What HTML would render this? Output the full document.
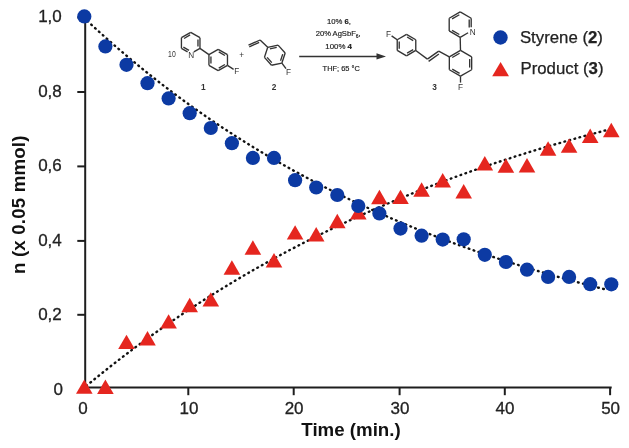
<!DOCTYPE html>
<html><head><meta charset="utf-8"><title>Reaction kinetics</title>
<style>html,body{margin:0;padding:0;background:#fff;width:629px;height:448px;overflow:hidden}svg{display:block}</style>
</head><body>
<svg width="629" height="448" viewBox="0 0 629 448">
<style>
.tk{font-family:"Liberation Sans",sans-serif;font-size:17px;fill:#222;stroke:#222;stroke-width:0.3px}
.ttl{font-family:"Liberation Sans",sans-serif;font-size:18.7px;font-weight:bold;fill:#111}
.lg{font-family:"Liberation Sans",sans-serif;font-size:16.8px;fill:#222;stroke:#222;stroke-width:0.25px}
.ch{font-family:"Liberation Sans",sans-serif;font-size:8.2px;fill:#333}
.cr{font-family:"Liberation Sans",sans-serif;font-size:7.9px;fill:#222;stroke:#222;stroke-width:0.18px}
.chb{font-family:"Liberation Sans",sans-serif;font-size:8.3px;font-weight:bold;fill:#333}
</style>
<rect width="629" height="448" fill="#fff"/>
<line x1="190.70" y1="32.30" x2="199.97" y2="37.65" stroke="#333" stroke-width="1.35"/>
<line x1="199.97" y1="37.65" x2="199.97" y2="48.35" stroke="#333" stroke-width="1.35"/>
<line x1="199.97" y1="48.35" x2="193.82" y2="51.90" stroke="#333" stroke-width="1.35"/>
<line x1="187.58" y1="51.90" x2="181.43" y2="48.35" stroke="#333" stroke-width="1.35"/>
<line x1="181.43" y1="48.35" x2="181.43" y2="37.65" stroke="#333" stroke-width="1.35"/>
<line x1="181.43" y1="37.65" x2="190.70" y2="32.30" stroke="#333" stroke-width="1.35"/>
<line x1="184.01" y1="38.47" x2="190.12" y2="34.94" stroke="#333" stroke-width="1.35"/>
<line x1="197.97" y1="39.47" x2="197.97" y2="46.53" stroke="#333" stroke-width="1.35"/>
<line x1="188.98" y1="50.42" x2="183.37" y2="47.18" stroke="#333" stroke-width="1.35"/>
<line x1="218.20" y1="49.30" x2="227.47" y2="54.65" stroke="#333" stroke-width="1.35"/>
<line x1="227.47" y1="54.65" x2="227.47" y2="65.35" stroke="#333" stroke-width="1.35"/>
<line x1="227.47" y1="65.35" x2="218.20" y2="70.70" stroke="#333" stroke-width="1.35"/>
<line x1="218.20" y1="70.70" x2="208.93" y2="65.35" stroke="#333" stroke-width="1.35"/>
<line x1="208.93" y1="65.35" x2="208.93" y2="54.65" stroke="#333" stroke-width="1.35"/>
<line x1="208.93" y1="54.65" x2="218.20" y2="49.30" stroke="#333" stroke-width="1.35"/>
<line x1="218.78" y1="51.94" x2="224.89" y2="55.47" stroke="#333" stroke-width="1.35"/>
<line x1="224.89" y1="64.53" x2="218.78" y2="68.06" stroke="#333" stroke-width="1.35"/>
<line x1="210.93" y1="63.53" x2="210.93" y2="56.47" stroke="#333" stroke-width="1.35"/>
<line x1="199.97" y1="48.35" x2="208.93" y2="54.65" stroke="#333" stroke-width="1.35"/>
<line x1="227.47" y1="65.35" x2="233.60" y2="69.40" stroke="#333" stroke-width="1.35"/>
<line x1="267.71" y1="47.32" x2="278.08" y2="45.12" stroke="#333" stroke-width="1.35"/>
<line x1="278.08" y1="45.12" x2="285.17" y2="53.00" stroke="#333" stroke-width="1.35"/>
<line x1="285.17" y1="53.00" x2="281.89" y2="63.08" stroke="#333" stroke-width="1.35"/>
<line x1="281.89" y1="63.08" x2="271.52" y2="65.28" stroke="#333" stroke-width="1.35"/>
<line x1="271.52" y1="65.28" x2="264.43" y2="57.40" stroke="#333" stroke-width="1.35"/>
<line x1="264.43" y1="57.40" x2="267.71" y2="47.32" stroke="#333" stroke-width="1.35"/>
<line x1="269.89" y1="48.90" x2="276.73" y2="47.45" stroke="#333" stroke-width="1.35"/>
<line x1="282.71" y1="54.09" x2="280.55" y2="60.75" stroke="#333" stroke-width="1.35"/>
<line x1="271.80" y1="62.60" x2="267.12" y2="57.40" stroke="#333" stroke-width="1.35"/>
<line x1="267.71" y1="47.32" x2="260.10" y2="40.00" stroke="#333" stroke-width="1.35"/>
<line x1="260.10" y1="40.00" x2="248.50" y2="45.10" stroke="#333" stroke-width="1.35"/>
<line x1="259.20" y1="42.40" x2="249.30" y2="46.90" stroke="#333" stroke-width="1.35"/>
<line x1="281.89" y1="63.08" x2="286.00" y2="68.60" stroke="#333" stroke-width="1.35"/>
<line x1="406.50" y1="34.40" x2="415.77" y2="39.75" stroke="#333" stroke-width="1.35"/>
<line x1="415.77" y1="39.75" x2="415.77" y2="50.45" stroke="#333" stroke-width="1.35"/>
<line x1="415.77" y1="50.45" x2="406.50" y2="55.80" stroke="#333" stroke-width="1.35"/>
<line x1="406.50" y1="55.80" x2="397.23" y2="50.45" stroke="#333" stroke-width="1.35"/>
<line x1="397.23" y1="50.45" x2="397.23" y2="39.75" stroke="#333" stroke-width="1.35"/>
<line x1="397.23" y1="39.75" x2="406.50" y2="34.40" stroke="#333" stroke-width="1.35"/>
<line x1="407.08" y1="37.04" x2="413.19" y2="40.57" stroke="#333" stroke-width="1.35"/>
<line x1="413.19" y1="49.63" x2="407.08" y2="53.16" stroke="#333" stroke-width="1.35"/>
<line x1="399.23" y1="48.63" x2="399.23" y2="41.57" stroke="#333" stroke-width="1.35"/>
<line x1="397.23" y1="39.75" x2="391.60" y2="35.90" stroke="#333" stroke-width="1.35"/>
<line x1="415.77" y1="50.45" x2="427.40" y2="59.10" stroke="#333" stroke-width="1.35"/>
<line x1="427.40" y1="59.10" x2="438.70" y2="51.10" stroke="#333" stroke-width="1.35"/>
<line x1="428.60" y1="61.40" x2="438.90" y2="54.00" stroke="#333" stroke-width="1.35"/>
<line x1="460.50" y1="50.40" x2="471.67" y2="56.85" stroke="#333" stroke-width="1.35"/>
<line x1="471.67" y1="56.85" x2="471.67" y2="69.75" stroke="#333" stroke-width="1.35"/>
<line x1="471.67" y1="69.75" x2="460.50" y2="76.20" stroke="#333" stroke-width="1.35"/>
<line x1="460.50" y1="76.20" x2="449.33" y2="69.75" stroke="#333" stroke-width="1.35"/>
<line x1="449.33" y1="69.75" x2="449.33" y2="56.85" stroke="#333" stroke-width="1.35"/>
<line x1="449.33" y1="56.85" x2="460.50" y2="50.40" stroke="#333" stroke-width="1.35"/>
<line x1="452.23" y1="57.49" x2="459.60" y2="53.23" stroke="#333" stroke-width="1.35"/>
<line x1="469.67" y1="59.04" x2="469.67" y2="67.56" stroke="#333" stroke-width="1.35"/>
<line x1="459.60" y1="73.37" x2="452.23" y2="69.11" stroke="#333" stroke-width="1.35"/>
<line x1="438.70" y1="51.10" x2="449.33" y2="56.85" stroke="#333" stroke-width="1.35"/>
<line x1="460.50" y1="76.20" x2="460.50" y2="82.60" stroke="#333" stroke-width="1.35"/>
<line x1="460.20" y1="11.90" x2="471.20" y2="18.25" stroke="#333" stroke-width="1.35"/>
<line x1="471.20" y1="18.25" x2="471.20" y2="27.35" stroke="#333" stroke-width="1.35"/>
<line x1="468.08" y1="32.75" x2="460.20" y2="37.30" stroke="#333" stroke-width="1.35"/>
<line x1="460.20" y1="37.30" x2="449.20" y2="30.95" stroke="#333" stroke-width="1.35"/>
<line x1="449.20" y1="30.95" x2="449.20" y2="18.25" stroke="#333" stroke-width="1.35"/>
<line x1="449.20" y1="18.25" x2="460.20" y2="11.90" stroke="#333" stroke-width="1.35"/>
<line x1="452.07" y1="18.90" x2="459.33" y2="14.71" stroke="#333" stroke-width="1.35"/>
<line x1="459.33" y1="34.49" x2="452.07" y2="30.30" stroke="#333" stroke-width="1.35"/>
<line x1="469.21" y1="19.49" x2="469.21" y2="27.57" stroke="#333" stroke-width="1.35"/>
<line x1="460.20" y1="37.30" x2="460.50" y2="50.40" stroke="#333" stroke-width="1.35"/>
<line x1="299.2" y1="56.4" x2="379" y2="56.4" stroke="#333" stroke-width="1.5"/>
<polygon points="386,56.4 376.5,53.3 376.5,59.5" fill="#333"/>
<text x="171.9" y="56.6" class="ch" text-anchor="middle" textLength="7.6" lengthAdjust="spacingAndGlyphs">10</text>
<text x="191.2" y="57.6" class="ch" text-anchor="middle">N</text>
<text x="236.8" y="74.3" class="ch" text-anchor="middle">F</text>
<text x="288.6" y="74.6" class="ch" text-anchor="middle">F</text>
<text x="388.4" y="37.4" class="ch" text-anchor="middle">F</text>
<text x="460.6" y="89.9" class="ch" text-anchor="middle">F</text>
<text x="472.6" y="34.6" class="ch" text-anchor="middle">N</text>
<text x="241.6" y="58.2" class="ch" text-anchor="middle" font-size="5">+</text>
<text x="203.2" y="90.2" class="chb" text-anchor="middle">1</text>
<text x="274.1" y="90.2" class="chb" text-anchor="middle">2</text>
<text x="434.5" y="90.2" class="chb" text-anchor="middle">3</text>
<text x="327" y="24.0" class="cr" textLength="24" lengthAdjust="spacingAndGlyphs">10% <tspan font-weight="bold">6</tspan>,</text>
<text x="315.7" y="35.9" class="cr" textLength="45" lengthAdjust="spacingAndGlyphs">20% AgSbF<tspan font-size="5.2" dy="1.6">6</tspan><tspan dy="-1.6">,</tspan></text>
<text x="325.3" y="48.7" class="cr" textLength="26.7" lengthAdjust="spacingAndGlyphs">100% <tspan font-weight="bold">4</tspan></text>
<text x="322.6" y="71.3" class="cr" textLength="37.2" lengthAdjust="spacingAndGlyphs">THF; 65 °C</text>
<line x1="85.2" y1="17" x2="85.2" y2="388.6" stroke="#1e1e1e" stroke-width="2"/>
<line x1="84.2" y1="387.6" x2="611.7" y2="387.6" stroke="#1e1e1e" stroke-width="2"/>
<line x1="77.3" y1="314.8" x2="85.2" y2="314.8" stroke="#1e1e1e" stroke-width="2"/>
<line x1="77.3" y1="240.9" x2="85.2" y2="240.9" stroke="#1e1e1e" stroke-width="2"/>
<line x1="77.3" y1="166.4" x2="85.2" y2="166.4" stroke="#1e1e1e" stroke-width="2"/>
<line x1="77.3" y1="92.0" x2="85.2" y2="92.0" stroke="#1e1e1e" stroke-width="2"/>
<line x1="77.3" y1="17.5" x2="85.2" y2="17.5" stroke="#1e1e1e" stroke-width="2"/>
<line x1="188.3" y1="387.6" x2="188.3" y2="395.2" stroke="#1e1e1e" stroke-width="2"/>
<line x1="293.7" y1="387.6" x2="293.7" y2="395.2" stroke="#1e1e1e" stroke-width="2"/>
<line x1="399.6" y1="387.6" x2="399.6" y2="395.2" stroke="#1e1e1e" stroke-width="2"/>
<line x1="504.8" y1="387.6" x2="504.8" y2="395.2" stroke="#1e1e1e" stroke-width="2"/>
<line x1="610.1" y1="387.6" x2="610.1" y2="395.2" stroke="#1e1e1e" stroke-width="2"/>
<text x="61.8" y="22.4" text-anchor="end" class="tk">1,0</text>
<text x="61.8" y="96.9" text-anchor="end" class="tk">0,8</text>
<text x="61.8" y="171.3" text-anchor="end" class="tk">0,6</text>
<text x="61.8" y="245.8" text-anchor="end" class="tk">0,4</text>
<text x="61.8" y="319.7" text-anchor="end" class="tk">0,2</text>
<text x="62.9" y="395.1" text-anchor="end" class="tk">0</text>
<text x="83.1" y="414" text-anchor="middle" class="tk">0</text>
<text x="189.0" y="414" text-anchor="middle" class="tk">10</text>
<text x="294.1" y="414" text-anchor="middle" class="tk">20</text>
<text x="400.0" y="414" text-anchor="middle" class="tk">30</text>
<text x="505.0" y="414" text-anchor="middle" class="tk">40</text>
<text x="610.6" y="414" text-anchor="middle" class="tk">50</text>
<text x="351" y="435.8" text-anchor="middle" class="ttl">Time (min.)</text>
<text transform="translate(24.8,204.8) rotate(-90)" text-anchor="middle" class="ttl" textLength="138.4" lengthAdjust="spacing">n (x 0.05 mmol)</text>
<path d="M87.46,21.06 L90.07,23.48 L92.67,25.88 L95.27,28.27 L97.88,30.64 L100.48,32.99 L103.08,35.33 L105.69,37.66 L108.29,39.96 L110.89,42.26 L113.50,44.54 L116.10,46.80 L118.70,49.05 L121.31,51.28 L123.91,53.50 L126.51,55.71 L129.12,57.90 L131.72,60.07 L134.32,62.23 L136.93,64.38 L139.53,66.51 L142.13,68.63 L144.74,70.73 L147.34,72.82 L149.94,74.90 L152.55,76.96 L155.15,79.01 L157.75,81.05 L160.36,83.07 L162.96,85.08 L165.56,87.08 L168.17,89.06 L170.77,91.03 L173.37,92.99 L175.98,94.93 L178.58,96.86 L181.18,98.78 L183.79,100.69 L186.39,102.58 L188.99,104.46 L191.60,106.33 L194.20,108.18 L196.80,110.03 L199.41,111.86 L202.01,113.68 L204.61,115.48 L207.22,117.28 L209.82,119.06 L212.42,120.83 L215.03,122.59 L217.63,124.34 L220.23,126.08 L222.84,127.81 L225.44,129.52 L228.04,131.22 L230.65,132.91 L233.25,134.59 L235.85,136.26 L238.46,137.92 L241.06,139.57 L243.66,141.21 L246.27,142.83 L248.87,144.45 L251.47,146.05 L254.08,147.64 L256.68,149.23 L259.29,150.80 L261.89,152.36 L264.49,153.91 L267.10,155.46 L269.70,156.99 L272.30,158.51 L274.91,160.02 L277.51,161.52 L280.11,163.01 L282.72,164.50 L285.32,165.97 L287.92,167.43 L290.53,168.88 L293.13,170.33 L295.73,171.76 L298.34,173.18 L300.94,174.60 L303.54,176.00 L306.15,177.40 L308.75,178.79 L311.35,180.16 L313.96,181.53 L316.56,182.89 L319.16,184.24 L321.77,185.58 L324.37,186.92 L326.97,188.24 L329.58,189.56 L332.18,190.86 L334.78,192.16 L337.39,193.45 L339.99,194.73 L342.59,196.00 L345.20,197.27 L347.80,198.52 L350.40,199.77 L353.01,201.01 L355.61,202.24 L358.21,203.46 L360.82,204.68 L363.42,205.89 L366.02,207.09 L368.63,208.28 L371.23,209.46 L373.83,210.63 L376.44,211.80 L379.04,212.96 L381.64,214.11 L384.25,215.26 L386.85,216.40 L389.45,217.53 L392.06,218.65 L394.66,219.76 L397.26,220.87 L399.87,221.97 L402.47,223.06 L405.07,224.15 L407.68,225.23 L410.28,226.30 L412.88,227.36 L415.49,228.42 L418.09,229.47 L420.69,230.51 L423.30,231.55 L425.90,232.58 L428.50,233.60 L431.11,234.62 L433.71,235.63 L436.31,236.63 L438.92,237.63 L441.52,238.62 L444.13,239.60 L446.73,240.57 L449.33,241.54 L451.94,242.51 L454.54,243.47 L457.14,244.42 L459.75,245.36 L462.35,246.30 L464.95,247.23 L467.56,248.16 L470.16,249.08 L472.76,249.99 L475.37,250.90 L477.97,251.80 L480.57,252.70 L483.18,253.59 L485.78,254.47 L488.38,255.35 L490.99,256.22 L493.59,257.09 L496.19,257.95 L498.80,258.81 L501.40,259.66 L504.00,260.50 L506.61,261.34 L509.21,262.17 L511.81,263.00 L514.42,263.82 L517.02,264.64 L519.62,265.45 L522.23,266.26 L524.83,267.06 L527.43,267.85 L530.04,268.64 L532.64,269.43 L535.24,270.21 L537.85,270.98 L540.45,271.75 L543.05,272.51 L545.66,273.27 L548.26,274.03 L550.86,274.78 L553.47,275.52 L556.07,276.26 L558.67,277.00 L561.28,277.72 L563.88,278.45 L566.48,279.17 L569.09,279.89 L571.69,280.60 L574.29,281.30 L576.90,282.00 L579.50,282.70 L582.10,283.39 L584.71,284.08 L587.31,284.76 L589.91,285.44 L592.52,286.12 L595.12,286.78 L597.72,287.45 L600.33,288.11 L602.93,288.77 L605.53,289.42 L608.14,290.07" fill="none" stroke="#111" stroke-width="2.4" stroke-dasharray="0.7 4.5" stroke-linecap="round"/>
<path d="M86.41,385.84 L89.02,383.68 L91.63,381.54 L94.23,379.40 L96.84,377.28 L99.45,375.17 L102.06,373.07 L104.67,370.98 L107.28,368.91 L109.89,366.85 L112.49,364.79 L115.10,362.76 L117.71,360.73 L120.32,358.71 L122.93,356.71 L125.54,354.72 L128.15,352.74 L130.76,350.77 L133.36,348.81 L135.97,346.87 L138.58,344.93 L141.19,343.01 L143.80,341.10 L146.41,339.20 L149.02,337.31 L151.62,335.43 L154.23,333.56 L156.84,331.70 L159.45,329.86 L162.06,328.02 L164.67,326.20 L167.28,324.38 L169.88,322.58 L172.49,320.78 L175.10,319.00 L177.71,317.23 L180.32,315.46 L182.93,313.71 L185.54,311.97 L188.15,310.24 L190.75,308.52 L193.36,306.80 L195.97,305.10 L198.58,303.41 L201.19,301.73 L203.80,300.05 L206.41,298.39 L209.01,296.74 L211.62,295.09 L214.23,293.46 L216.84,291.83 L219.45,290.22 L222.06,288.61 L224.67,287.02 L227.28,285.43 L229.88,283.85 L232.49,282.28 L235.10,280.72 L237.71,279.17 L240.32,277.63 L242.93,276.10 L245.54,274.57 L248.14,273.06 L250.75,271.55 L253.36,270.05 L255.97,268.56 L258.58,267.08 L261.19,265.61 L263.80,264.15 L266.40,262.69 L269.01,261.25 L271.62,259.81 L274.23,258.38 L276.84,256.96 L279.45,255.55 L282.06,254.14 L284.67,252.74 L287.27,251.35 L289.88,249.97 L292.49,248.60 L295.10,247.24 L297.71,245.88 L300.32,244.53 L302.93,243.19 L305.53,241.86 L308.14,240.53 L310.75,239.21 L313.36,237.90 L315.97,236.60 L318.58,235.31 L321.19,234.02 L323.80,232.74 L326.40,231.47 L329.01,230.20 L331.62,228.94 L334.23,227.69 L336.84,226.45 L339.45,225.21 L342.06,223.98 L344.66,222.76 L347.27,221.55 L349.88,220.34 L352.49,219.14 L355.10,217.94 L357.71,216.76 L360.32,215.58 L362.92,214.40 L365.53,213.24 L368.14,212.08 L370.75,210.93 L373.36,209.78 L375.97,208.64 L378.58,207.51 L381.19,206.38 L383.79,205.26 L386.40,204.15 L389.01,203.04 L391.62,201.94 L394.23,200.85 L396.84,199.76 L399.45,198.68 L402.05,197.60 L404.66,196.53 L407.27,195.47 L409.88,194.42 L412.49,193.36 L415.10,192.32 L417.71,191.28 L420.32,190.25 L422.92,189.22 L425.53,188.20 L428.14,187.19 L430.75,186.18 L433.36,185.18 L435.97,184.18 L438.58,183.19 L441.18,182.20 L443.79,181.23 L446.40,180.25 L449.01,179.28 L451.62,178.32 L454.23,177.36 L456.84,176.41 L459.44,175.47 L462.05,174.53 L464.66,173.59 L467.27,172.66 L469.88,171.74 L472.49,170.82 L475.10,169.90 L477.71,169.00 L480.31,168.09 L482.92,167.20 L485.53,166.30 L488.14,165.42 L490.75,164.53 L493.36,163.66 L495.97,162.78 L498.57,161.92 L501.18,161.06 L503.79,160.20 L506.40,159.35 L509.01,158.50 L511.62,157.66 L514.23,156.82 L516.84,155.99 L519.44,155.16 L522.05,154.34 L524.66,153.52 L527.27,152.71 L529.88,151.90 L532.49,151.09 L535.10,150.30 L537.70,149.50 L540.31,148.71 L542.92,147.93 L545.53,147.14 L548.14,146.37 L550.75,145.60 L553.36,144.83 L555.96,144.07 L558.57,143.31 L561.18,142.55 L563.79,141.80 L566.40,141.06 L569.01,140.32 L571.62,139.58 L574.23,138.85 L576.83,138.12 L579.44,137.40 L582.05,136.68 L584.66,135.96 L587.27,135.25 L589.88,134.54 L592.49,133.84 L595.09,133.14 L597.70,132.45 L600.31,131.76 L602.92,131.07 L605.53,130.39 L608.14,129.71" fill="none" stroke="#111" stroke-width="2.4" stroke-dasharray="0.7 4.5" stroke-linecap="round"/>
<polygon points="84.3,379.4 92.6,393.8 76.0,393.8" fill="#e5261f"/>
<polygon points="105.4,379.5 113.7,393.9 97.1,393.9" fill="#e5261f"/>
<polygon points="126.5,334.7 134.8,349.1 118.2,349.1" fill="#e5261f"/>
<polygon points="147.5,331.1 155.8,345.5 139.2,345.5" fill="#e5261f"/>
<polygon points="168.6,314.2 176.9,328.6 160.3,328.6" fill="#e5261f"/>
<polygon points="189.7,297.8 198.0,312.2 181.4,312.2" fill="#e5261f"/>
<polygon points="210.8,292.2 219.1,306.6 202.5,306.6" fill="#e5261f"/>
<polygon points="231.9,260.3 240.2,274.7 223.6,274.7" fill="#e5261f"/>
<polygon points="252.9,240.3 261.2,254.7 244.6,254.7" fill="#e5261f"/>
<polygon points="274.0,253.0 282.3,267.4 265.7,267.4" fill="#e5261f"/>
<polygon points="295.1,225.2 303.4,239.6 286.8,239.6" fill="#e5261f"/>
<polygon points="316.2,227.0 324.5,241.4 307.9,241.4" fill="#e5261f"/>
<polygon points="337.3,213.8 345.6,228.2 329.0,228.2" fill="#e5261f"/>
<polygon points="358.3,205.1 366.6,219.5 350.0,219.5" fill="#e5261f"/>
<polygon points="379.4,189.8 387.7,204.2 371.1,204.2" fill="#e5261f"/>
<polygon points="400.5,189.7 408.8,204.1 392.2,204.1" fill="#e5261f"/>
<polygon points="421.6,182.3 429.9,196.7 413.3,196.7" fill="#e5261f"/>
<polygon points="442.7,173.1 451.0,187.5 434.4,187.5" fill="#e5261f"/>
<polygon points="463.7,184.1 472.0,198.5 455.4,198.5" fill="#e5261f"/>
<polygon points="484.8,156.0 493.1,170.4 476.5,170.4" fill="#e5261f"/>
<polygon points="505.9,158.4 514.2,172.8 497.6,172.8" fill="#e5261f"/>
<polygon points="527.0,158.0 535.3,172.4 518.7,172.4" fill="#e5261f"/>
<polygon points="548.1,141.3 556.4,155.7 539.8,155.7" fill="#e5261f"/>
<polygon points="569.1,138.4 577.4,152.8 560.8,152.8" fill="#e5261f"/>
<polygon points="590.2,128.6 598.5,143.0 581.9,143.0" fill="#e5261f"/>
<polygon points="611.3,122.8 619.6,137.2 603.0,137.2" fill="#e5261f"/>
<circle cx="84.3" cy="16.4" r="7.1" fill="#0c3aa3"/>
<circle cx="105.4" cy="46.4" r="7.1" fill="#0c3aa3"/>
<circle cx="126.5" cy="64.8" r="7.1" fill="#0c3aa3"/>
<circle cx="147.5" cy="83.2" r="7.1" fill="#0c3aa3"/>
<circle cx="168.6" cy="98.4" r="7.1" fill="#0c3aa3"/>
<circle cx="189.7" cy="113.2" r="7.1" fill="#0c3aa3"/>
<circle cx="210.8" cy="128.0" r="7.1" fill="#0c3aa3"/>
<circle cx="231.9" cy="143.2" r="7.1" fill="#0c3aa3"/>
<circle cx="252.9" cy="157.9" r="7.1" fill="#0c3aa3"/>
<circle cx="274.0" cy="157.9" r="7.1" fill="#0c3aa3"/>
<circle cx="295.1" cy="180.2" r="7.1" fill="#0c3aa3"/>
<circle cx="316.2" cy="187.5" r="7.1" fill="#0c3aa3"/>
<circle cx="337.3" cy="195.0" r="7.1" fill="#0c3aa3"/>
<circle cx="358.3" cy="206.0" r="7.1" fill="#0c3aa3"/>
<circle cx="379.4" cy="213.4" r="7.1" fill="#0c3aa3"/>
<circle cx="400.5" cy="228.6" r="7.1" fill="#0c3aa3"/>
<circle cx="421.6" cy="235.7" r="7.1" fill="#0c3aa3"/>
<circle cx="442.7" cy="239.6" r="7.1" fill="#0c3aa3"/>
<circle cx="463.7" cy="239.3" r="7.1" fill="#0c3aa3"/>
<circle cx="484.8" cy="254.8" r="7.1" fill="#0c3aa3"/>
<circle cx="505.9" cy="262.0" r="7.1" fill="#0c3aa3"/>
<circle cx="527.0" cy="269.7" r="7.1" fill="#0c3aa3"/>
<circle cx="548.1" cy="276.9" r="7.1" fill="#0c3aa3"/>
<circle cx="569.1" cy="276.9" r="7.1" fill="#0c3aa3"/>
<circle cx="590.2" cy="284.2" r="7.1" fill="#0c3aa3"/>
<circle cx="611.3" cy="284.3" r="7.1" fill="#0c3aa3"/>
<circle cx="500.5" cy="37.5" r="7.2" fill="#0c3aa3"/>
<polygon points="500.6,61.9 509.0,76.3 492.2,76.3" fill="#e5261f"/>
<text x="519.9" y="42.9" class="lg">Styrene (<tspan font-weight="bold">2</tspan>)</text>
<text x="520.5" y="74.4" class="lg">Product (<tspan font-weight="bold">3</tspan>)</text>
</svg>
</body></html>
